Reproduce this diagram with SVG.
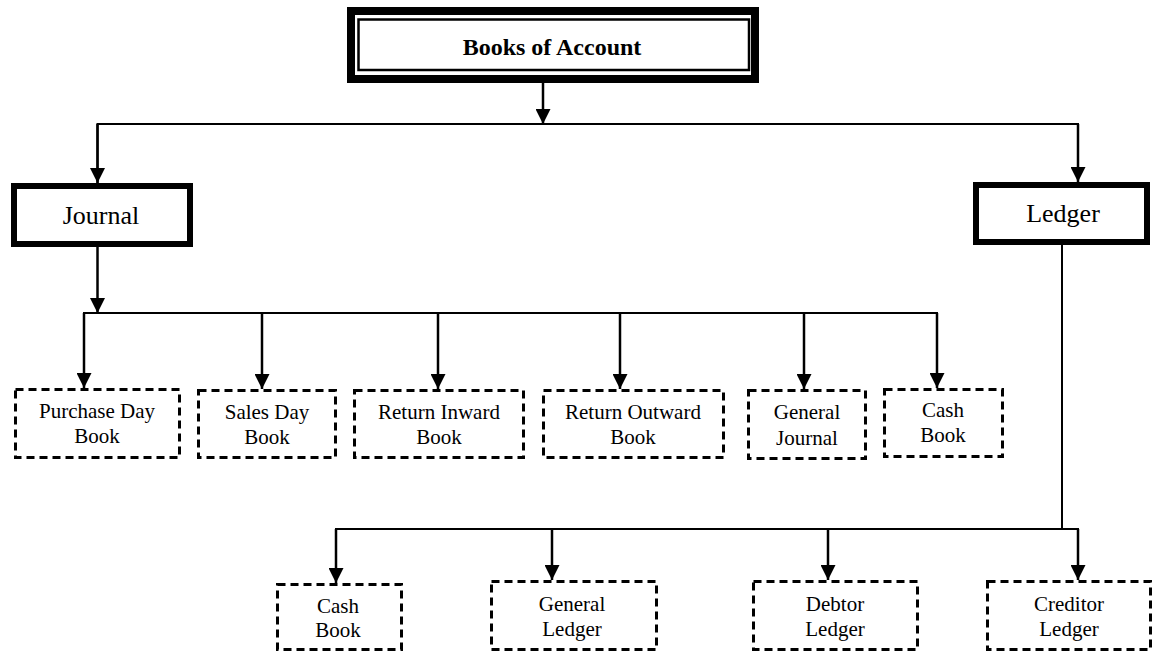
<svg xmlns="http://www.w3.org/2000/svg" width="1152" height="652" viewBox="0 0 1152 652">
<defs>
<style>
.t{font-family:"Liberation Serif","Times New Roman",serif;fill:#000;text-anchor:middle}
.s{font-size:21px}
.m{font-size:26px}
.b{font-size:24px;font-weight:bold}
.dash{fill:#fff;stroke:#000;stroke-width:3;stroke-dasharray:8 5}
.thick{fill:#fff;stroke:#000;stroke-width:6}
.c{fill:none;stroke:#000;stroke-width:2}
.a{fill:none;stroke:#000;stroke-width:2.5;marker-end:url(#ah)}
</style>
<marker id="ah" markerUnits="userSpaceOnUse" markerWidth="15" markerHeight="15" viewBox="0 0 15 15" refX="15" refY="7.5" orient="auto">
<path d="M0,0 L15,7.5 L0,15 z" fill="#000"/>
</marker>
</defs>
<rect width="1152" height="652" fill="#fff"/>

<g id="connectors">
<line class="a" x1="543" y1="83" x2="543" y2="124"/>
<polyline class="c" points="97.5,183 97.5,124 1078,124 1078,182"/>
<line class="a" x1="97.5" y1="124" x2="97.5" y2="183"/>
<line class="a" x1="1078" y1="124" x2="1078" y2="182"/>
<line class="a" x1="97.5" y1="247" x2="97.5" y2="313"/>
<polyline class="c" points="84,387 84,313 937,313 937,387"/>
<line class="a" x1="84" y1="313" x2="84" y2="388"/>
<line class="a" x1="262" y1="313" x2="262" y2="389"/>
<line class="a" x1="438" y1="313" x2="438" y2="389"/>
<line class="a" x1="620" y1="313" x2="620" y2="389"/>
<line class="a" x1="804" y1="313" x2="804" y2="389"/>
<line class="a" x1="937" y1="313" x2="937" y2="388"/>
<line class="c" x1="1062" y1="245" x2="1062" y2="529"/>
<polyline class="c" points="336,580 336,529 1078,529 1078,580"/>
<line class="a" x1="336" y1="529" x2="336" y2="583"/>
<line class="a" x1="552" y1="529" x2="552" y2="580"/>
<line class="a" x1="828" y1="529" x2="828" y2="580"/>
<line class="a" x1="1078" y1="529" x2="1078" y2="580"/>
</g>

<g id="books-of-account">
<rect x="351" y="11" width="404" height="68" fill="#fff" stroke="#000" stroke-width="8"/>
<rect x="358.5" y="19.5" width="390.5" height="50.5" fill="none" stroke="#000" stroke-width="2.5"/>
<text class="t b" x="552" y="55">Books of Account</text>
</g>

<g id="journal">
<rect class="thick" x="14" y="186" width="176" height="58"/>
<text class="t m" x="101" y="224">Journal</text>
</g>

<g id="ledger">
<rect class="thick" x="976" y="185" width="171" height="57"/>
<text class="t m" x="1063" y="222">Ledger</text>
</g>

<g id="purchase-day-book">
<rect class="dash" x="15.5" y="389.5" width="164" height="68"/>
<text class="t s" x="97" y="418">Purchase Day</text>
<text class="t s" x="97" y="443">Book</text>
</g>

<g id="sales-day-book">
<rect class="dash" x="198.5" y="390.5" width="137" height="67"/>
<text class="t s" x="267" y="419">Sales Day</text>
<text class="t s" x="267" y="444">Book</text>
</g>

<g id="return-inward-book">
<rect class="dash" x="354.5" y="390.5" width="169" height="67"/>
<text class="t s" x="439" y="419">Return Inward</text>
<text class="t s" x="439" y="444">Book</text>
</g>

<g id="return-outward-book">
<rect class="dash" x="543.5" y="390.5" width="180" height="67"/>
<text class="t s" x="633" y="419">Return Outward</text>
<text class="t s" x="633" y="444">Book</text>
</g>

<g id="general-journal">
<rect class="dash" x="748.5" y="390.5" width="117" height="68"/>
<text class="t s" x="807" y="419">General</text>
<text class="t s" x="807" y="445">Journal</text>
</g>

<g id="cash-book-journal">
<rect class="dash" x="884.5" y="389.5" width="118" height="67"/>
<text class="t s" x="943" y="417">Cash</text>
<text class="t s" x="943" y="442">Book</text>
</g>

<g id="cash-book-ledger">
<rect class="dash" x="277.5" y="584.5" width="124" height="65"/>
<text class="t s" x="338" y="613">Cash</text>
<text class="t s" x="338" y="637">Book</text>
</g>

<g id="general-ledger">
<rect class="dash" x="491.5" y="581.5" width="165" height="68"/>
<text class="t s" x="572" y="611">General</text>
<text class="t s" x="572" y="636">Ledger</text>
</g>

<g id="debtor-ledger">
<rect class="dash" x="753.5" y="581.5" width="164" height="68"/>
<text class="t s" x="835" y="611">Debtor</text>
<text class="t s" x="835" y="636">Ledger</text>
</g>

<g id="creditor-ledger">
<rect class="dash" x="987.5" y="581.5" width="163" height="68"/>
<text class="t s" x="1069" y="611">Creditor</text>
<text class="t s" x="1069" y="636">Ledger</text>
</g>
</svg>
